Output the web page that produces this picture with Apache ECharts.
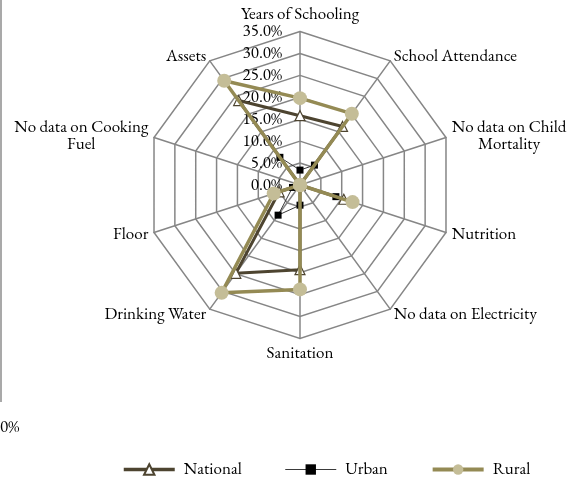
<!DOCTYPE html>
<html>
<head>
<meta charset="utf-8">
<script src="https://cdn.jsdelivr.net/npm/echarts@6/dist/echarts.min.js"></script>
<style>
  html, body { margin: 0; padding: 0; background: #fff; }
  #chart { width: 571px; height: 479px; }
</style>
</head>
<body>
<div id="chart"></div>
<script>
// categories in the picture's clockwise order, starting at the top
const categories = ['Years of Schooling', 'School Attendance', 'No data on Child\nMortality', 'Nutrition',
    'No data on Electricity', 'Sanitation', 'Drinking Water', 'Floor', 'No data on Cooking\nFuel', 'Assets'];
const national = [15.8, 16.5, 0, 10.5, 0, 19.3, 24.9, 5.0, 0, 23.8];
const urban = [3.4, 5.6, 0, 8.6, 0, 4.6, 8.5, 1.8, 0, 7.8];
const rural = [19.8, 20.1, 0, 12.6, 0, 23.8, 30.4, 6.3, 0, 29.4];
const seriesNames = ['National', 'Urban', 'Rural'];
const axisMax = 35;

const FONT = 'Garamond, "EB Garamond", "Liberation Serif", serif';
const FS = 17;

// echarts puts radar axes counter-clockwise, so flip everything after the first one
const cw = arr => [arr[0]].concat(arr.slice(1).reverse());

const indicator = cw(categories).map((name, i) => {
    const ind = { name: name, min: 0, max: axisMax };
    if (i === 0) {
        // tick labels only on the top axis
        ind.axisLabel = {
            show: true,
            color: '#000',
            fontFamily: FONT,
            fontSize: FS,
            margin: 18,
            formatter: v => v.toFixed(1) + '%'
        };
    }
    return ind;
});

// look of each series (radar marks and the legend sample share it)
const styles = {
    National: {
        symbol: 'triangle', symbolSize: 10,
        lineStyle: { color: '#4d4430', width: 3 },
        itemStyle: { color: '#fff', borderColor: '#4d4430', borderWidth: 1.2 }
    },
    Urban: {
        symbol: 'rect', symbolSize: 7,
        lineStyle: { color: '#3a3a3a', width: 1 },
        itemStyle: { color: '#000' }
    },
    Rural: {
        symbol: 'circle', symbolSize: 14,
        lineStyle: { color: '#948a54', width: 3.5 },
        itemStyle: { color: '#c4bd97' }
    }
};
const legendLines = { National: 3.5, Urban: 1, Rural: 4 };
const values = { National: national, Urban: urban, Rural: rural };

const radarSeries = seriesNames.map((n, i) => Object.assign({
    type: 'radar',
    z: 2 + i,
    data: [{ name: n + ' ', value: cw(values[n]) }]
}, styles[n]));

// empty line series, only so the legend shows a line with its marker
const legendSeries = seriesNames.map(n => Object.assign({
    type: 'line',
    name: n,
    data: []
}, styles[n]));

const chart = echarts.init(document.getElementById('chart'), null, { renderer: 'canvas' });

chart.setOption({
    backgroundColor: '#fff',
    animation: false,
    grid: { show: false, left: 0, top: 0, width: 1, height: 1 },
    xAxis: { type: 'category', show: false },
    yAxis: { type: 'value', show: false },
    legend: {
        top: 456,
        left: 117,
        itemGap: 43,
        itemWidth: 51,
        itemHeight: 13,
        textStyle: { color: '#000', fontFamily: FONT, fontSize: FS, padding: [0, 0, 0, 4] },
        data: seriesNames.map(n => ({
            name: n,
            lineStyle: { width: legendLines[n], color: styles[n].lineStyle.color }
        }))
    },
    radar: {
        center: [300, 185],
        radius: 153.5,
        startAngle: 90,
        splitNumber: 7,
        shape: 'polygon',
        nameGap: 6,
        indicator: indicator,
        axisName: {
            color: '#000',
            fontFamily: FONT,
            fontSize: FS,
            formatter: name => name.split('\n').map(s => '{c|' + s + '}').join('\n'),
            rich: { c: { align: 'center', fontFamily: FONT, fontSize: FS, color: '#000' } }
        },
        splitLine: { lineStyle: { color: '#868686', width: 1.5 } },
        splitArea: { show: false },
        axisLine: { lineStyle: { color: '#868686', width: 1.5 } },
        axisTick: { show: false }
    },
    series: radarSeries.concat(legendSeries),
    graphic: [
        // leftovers of a neighbouring chart at the left edge of the picture
        { type: 'line', shape: { x1: 1, y1: 0, x2: 1, y2: 402 }, style: { stroke: '#8c8c8c', lineWidth: 1.5 } },
        { type: 'text', left: 0, top: 419, style: { text: '0%', fill: '#000', font: FS + 'px ' + FONT } }
    ]
});

window.addEventListener('resize', () => chart.resize());
</script>
</body>
</html>
